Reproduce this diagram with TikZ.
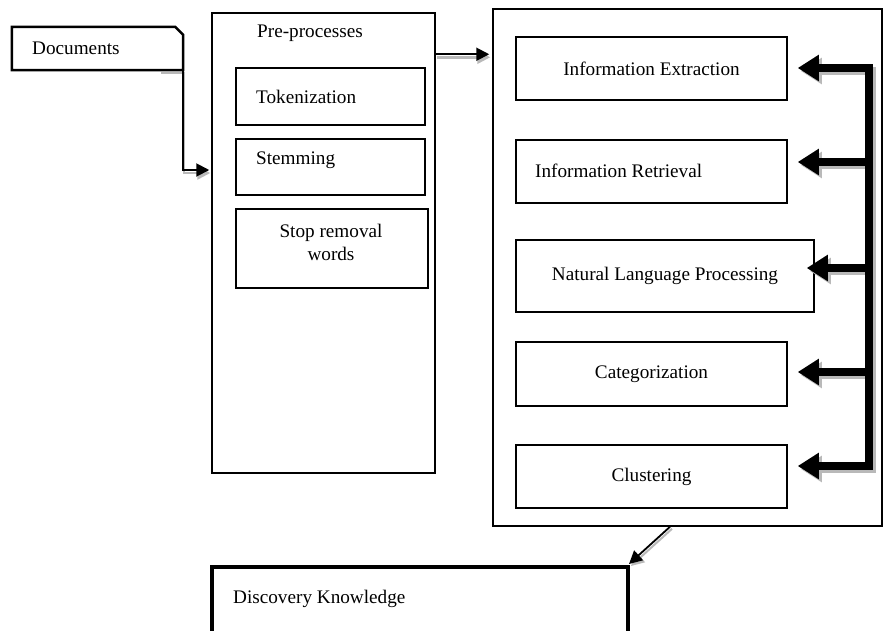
\documentclass[tikz,border=0pt]{standalone}
\usepackage{fontspec}
\setmainfont{Liberation Serif}
\usetikzlibrary{arrows.meta}
\begin{document}
\begin{tikzpicture}[x=1pt,y=-1pt,
  box/.style={draw, line width=1.5pt, inner sep=0pt},
  lbl/.style={inner sep=0pt, font=\fontsize{19.2}{23}\selectfont},
  thin/.style={line width=2pt, -{Triangle[length=13pt,width=13pt]}},
  thinshadow/.style={line width=2.5pt, gray!55, -{Triangle[length=13pt,width=13pt]}},
  fat/.style={line width=7.5pt, -{Triangle[length=21pt,width=25pt]}},
  fatshadow/.style={line width=7.5pt, gray!55, -{Triangle[length=21pt,width=25pt]}}
]
\useasboundingbox (0,0) rectangle (883,630);
\fill[white] (0,0) rectangle (883,630);

% Documents (cut corner)
\node[inner sep=0pt, minimum width=171pt, minimum height=43pt] (docs) at (97.5,48.5) {};
\draw[line width=2.5pt] (docs.south west) -- (docs.north west) -- ([xshift=-8pt]docs.north east)
  -- ([yshift=-8pt]docs.north east) -- (docs.south east) -- cycle;
\node[lbl, anchor=west] (docst) at (32,48) {Documents};

% Pre-processes
\node[box, minimum width=223pt, minimum height=460pt] (pre) at (323.5,243) {};
\node[lbl] (pret) at (310,33) {Pre-processes};
\node[box, minimum width=189pt, minimum height=57pt] (tok) at (330.5,96.5) {};
\node[lbl, anchor=west] (tokt) at (256,97) {Tokenization};
\node[box, minimum width=189pt, minimum height=56pt] (stem) at (330.5,167) {};
\node[lbl, anchor=west] (stemt) at (256,160) {Stemming};
\node[box, minimum width=192pt, minimum height=79pt] (stop) at (332,248.5) {};
\node[lbl, align=center] (stopt) at (331,242) {Stop removal\\words};

% Big box
\node[box, minimum width=389pt, minimum height=517pt] (big) at (687.5,267.5) {};
\node[box, minimum width=271pt, minimum height=63pt, lbl] (ie) at (651.5,68.5) {Information Extraction};
\node[box, minimum width=271pt, minimum height=63pt] (ir) at (651.5,171.5) {};
\node[lbl, anchor=west] (irt) at (535,171) {Information Retrieval};
\node[box, minimum width=298pt, minimum height=72pt, lbl] (nlp) at (665,276) {Natural Language Processing};
\node[box, minimum width=271pt, minimum height=64pt, lbl] (cat) at (651.5,374) {Categorization};
\node[box, minimum width=271pt, minimum height=63pt, lbl] (clu) at (651.5,476.5) {Clustering};

% Discovery Knowledge
\node[draw, line width=4pt, inner sep=0pt, minimum width=416pt, minimum height=73pt] (disc) at (420,603.5) {};
\node[lbl, anchor=west] (disct) at (233,599) {Discovery Knowledge};

% Documents -> Pre-processes
\coordinate (d0) at ([xshift=-23pt]docs.south east);
\coordinate (pin) at (pre.west |- 0,170);
\draw[thinshadow, transform canvas={xshift=1pt,yshift=-3pt}] (d0) -- (docs.south east) |- ([xshift=-2pt]pin);
\draw[thin] (d0) -- (docs.south east) |- ([xshift=-2pt]pin);

% Pre -> big
\coordinate (p0) at ([yshift=-42pt]pre.north east);
\coordinate (b0) at ([yshift=-46pt]big.north west);
\draw[thinshadow, transform canvas={xshift=1pt,yshift=-3pt}] (p0) -- ([xshift=-3pt]b0);
\draw[thin] (p0) -- ([xshift=-3pt]b0);

% Big -> Discovery
\coordinate (bb) at ([xshift=-17.5pt]big.south);
\draw[thinshadow, line width=2pt, transform canvas={xshift=2pt,yshift=-2pt}] (bb) -- ([xshift=-1pt,yshift=1pt]disc.north east);
\draw[thin, line width=1.8pt] (bb) -- ([xshift=-1pt,yshift=1pt]disc.north east);

% Feedback rail
\coordinate (r1) at (869,68);
\coordinate (r2) at (869,162);
\coordinate (r3) at (869,268);
\coordinate (r4) at (869,372);
\coordinate (r5) at (869,466);
\begin{scope}[transform canvas={xshift=3pt,yshift=-3pt}]
  \draw[line width=7.5pt, gray!55] ([yshift=3.75pt]r1) -- ([yshift=-3.75pt]r5);
  \draw[fatshadow] (r1) -- ([xshift=10pt]ie.east |- r1);
  \draw[fatshadow] (r2) -- ([xshift=10pt]ir.east |- r2);
  \draw[fatshadow] (r3) -- ([xshift=-8pt]nlp.east |- r3);
  \draw[fatshadow] (r4) -- ([xshift=10pt]cat.east |- r4);
  \draw[fatshadow] (r5) -- ([xshift=10pt]clu.east |- r5);
\end{scope}
\draw[line width=7.5pt] ([yshift=3.75pt]r1) -- ([yshift=-3.75pt]r5);
\draw[fat] (r1) -- ([xshift=10pt]ie.east |- r1);
\draw[fat] (r2) -- ([xshift=10pt]ir.east |- r2);
\draw[fat] (r3) -- ([xshift=-8pt]nlp.east |- r3);
\draw[fat] (r4) -- ([xshift=10pt]cat.east |- r4);
\draw[fat] (r5) -- ([xshift=10pt]clu.east |- r5);
\end{tikzpicture}
\end{document}
